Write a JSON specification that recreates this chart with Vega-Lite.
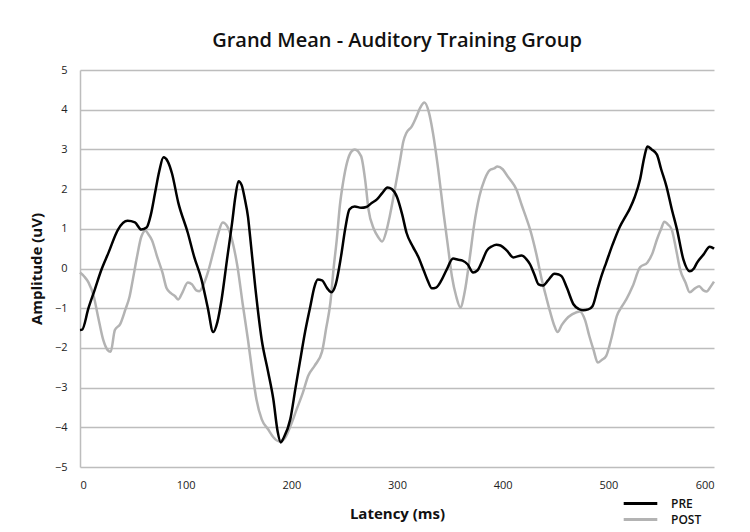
{
  "$schema": "https://vega.github.io/schema/vega-lite/v6.json",
  "width": 634,
  "height": 397,
  "padding": {"left": 80, "top": 70, "right": 36, "bottom": 65},
  "autosize": {"type": "none"},
  "background": "white",
  "title": {
    "text": "Grand Mean - Auditory Training Group",
    "font": "Open Sans",
    "fontSize": 20,
    "fontWeight": 600,
    "color": "#111111",
    "anchor": "middle",
    "offset": 13
  },
  "config": {
    "view": {"stroke": null},
    "font": "Open Sans"
  },
  "datasets": {
    "pre": [
      [0,-1.55],[2,-1.54],[8,-1.0],[14,-0.53],[20,-0.05],[27,0.4],[36,0.98],[45,1.2],[52,1.16],[58,0.98],[63,1.03],[67,1.35],[71,1.9],[75,2.45],[79,2.8],[83,2.7],[87,2.4],[93,1.66],[102,0.9],[108,0.3],[115,-0.28],[121,-1.0],[126,-1.6],[130,-1.35],[134,-0.78],[139,0.2],[144,1.16],[147,1.8],[150,2.2],[153,2.1],[156,1.75],[159,1.3],[161,0.8],[166,-0.5],[172,-1.8],[178,-2.6],[183,-3.3],[187,-4.1],[190,-4.38],[193,-4.25],[199,-3.8],[204,-3.0],[208,-2.37],[213,-1.6],[218,-0.95],[222,-0.45],[225,-0.28],[229,-0.3],[234,-0.5],[238,-0.6],[242,-0.4],[247,0.3],[251,1.0],[255,1.49],[260,1.56],[266,1.53],[271,1.55],[276,1.65],[281,1.74],[286,1.9],[291,2.04],[295,2.0],[300,1.8],[305,1.35],[309,0.9],[315,0.55],[320,0.3],[325,-0.03],[329,-0.3],[333,-0.5],[337,-0.48],[342,-0.3],[347,-0.03],[353,0.25],[358,0.22],[362,0.2],[367,0.1],[372,-0.1],[376,-0.05],[380,0.15],[385,0.45],[390,0.56],[394,0.6],[398,0.58],[404,0.45],[410,0.28],[418,0.33],[422,0.25],[426,0.1],[430,-0.15],[434,-0.4],[438,-0.43],[443,-0.3],[449,-0.13],[453,-0.15],[456,-0.2],[461,-0.5],[467,-0.9],[472,-1.02],[476,-1.05],[481,-1.03],[485,-0.95],[490,-0.5],[494,-0.15],[498,0.15],[504,0.6],[511,1.06],[516,1.3],[520,1.49],[525,1.8],[530,2.24],[534,2.8],[537,3.07],[541,3.0],[546,2.87],[550,2.5],[555,2.07],[560,1.5],[565,0.98],[571,0.23],[577,-0.07],[581,0.0],[584,0.15],[590,0.35],[596,0.55],[600,0.5]
    ],
    "post": [
      [0,-0.1],[4,-0.2],[8,-0.35],[13,-0.7],[17,-1.2],[22,-1.8],[26,-2.05],[29,-2.1],[33,-1.55],[38,-1.4],[43,-1.03],[47,-0.7],[50,-0.28],[54,0.3],[58,0.8],[62,0.95],[65,0.85],[68,0.72],[73,0.3],[78,-0.1],[82,-0.5],[86,-0.62],[90,-0.7],[93,-0.78],[97,-0.6],[102,-0.35],[106,-0.4],[110,-0.55],[113,-0.57],[117,-0.4],[121,-0.1],[126,0.4],[131,0.9],[135,1.16],[140,1.03],[145,0.6],[149,0.05],[154,-0.9],[159,-1.8],[163,-2.6],[167,-3.3],[172,-3.8],[178,-4.05],[183,-4.25],[188,-4.35],[193,-4.3],[199,-3.98],[205,-3.55],[211,-3.12],[216,-2.7],[222,-2.45],[229,-2.1],[233,-1.5],[237,-0.85],[240,0.0],[243,0.73],[246,1.6],[249,2.17],[253,2.7],[257,2.95],[260,3.0],[266,2.83],[270,2.2],[273,1.49],[278,1.0],[282,0.8],[286,0.68],[290,0.95],[293,1.3],[298,2.0],[303,2.74],[306,3.2],[309,3.42],[314,3.58],[318,3.8],[322,4.05],[326,4.18],[330,3.95],[334,3.42],[339,2.5],[344,1.41],[348,0.6],[352,-0.2],[356,-0.7],[360,-0.98],[364,-0.6],[369,0.3],[373,1.1],[378,1.82],[383,2.25],[388,2.48],[392,2.52],[395,2.57],[400,2.5],[404,2.35],[407,2.24],[413,1.99],[418,1.6],[422,1.3],[426,0.98],[432,0.35],[437,-0.28],[441,-0.7],[445,-1.1],[449,-1.45],[452,-1.6],[456,-1.42],[460,-1.28],[466,-1.15],[473,-1.08],[478,-1.3],[482,-1.7],[486,-2.05],[490,-2.37],[494,-2.3],[498,-2.2],[503,-1.75],[508,-1.2],[513,-0.95],[517,-0.78],[523,-0.45],[530,0.03],[537,0.15],[542,0.4],[546,0.73],[550,1.0],[553,1.18],[556,1.12],[560,0.98],[564,0.5],[568,-0.03],[573,-0.35],[577,-0.6],[582,-0.5],[586,-0.45],[590,-0.55],[593,-0.58],[597,-0.45],[600,-0.33]
    ]
  },
  "encoding": {
    "x": {
      "field": "t", "type": "quantitative",
      "scale": {"domain": [0, 600], "nice": false},
      "axis": {
        "title": "Latency (ms)", "values": [0,100,200,300,400,500,600],
        "grid": false, "domain": false, "ticks": false, "labelOverlap": false,
        "labelPadding": 12, "labelFontSize": 11, "labelColor": "#222222",
        "titleFontSize": 15, "titleFontWeight": "bold", "titleColor": "#111111",
        "titlePadding": 16
      }
    },
    "y": {
      "field": "v", "type": "quantitative",
      "scale": {"domain": [-5, 5], "nice": false},
      "axis": {
        "title": "Amplitude (uV)", "values": [-5,-4,-3,-2,-1,0,1,2,3,4,5],
        "grid": true, "gridColor": "#bdbdbd", "gridWidth": 1.5, "labelOverlap": false,
        "domain": true, "domainColor": "#bdbdbd", "domainWidth": 1.5,
        "ticks": false, "labelPadding": 13, "labelFontSize": 11, "labelColor": "#222222",
        "titleFontSize": 15, "titleFontWeight": "bold", "titleColor": "#111111",
        "titlePadding": 10
      }
    },
    "color": {
      "field": "series", "type": "nominal",
      "scale": {"domain": ["PRE", "POST"], "range": ["#000000", "#b3b3b3"]},
      "legend": {
        "title": null, "orient": "none", "legendX": 552, "legendY": 425,
        "symbolType": "M-2.4,0H2.4", "symbolStrokeWidth": 3, "symbolSize": 196,
        "labelFontSize": 12, "labelFontWeight": 600, "labelColor": "#111111",
        "labelOffset": 22, "rowPadding": 1, "padding": 0
      }
    }
  },
  "layer": [
    {
      "data": {"name": "post"},
      "transform": [
        {"calculate": "datum[0]", "as": "t"},
        {"calculate": "datum[1]", "as": "v"},
        {"calculate": "'POST'", "as": "series"}
      ],
      "mark": {"type": "line", "strokeWidth": 2.5, "interpolate": "monotone"}
    },
    {
      "data": {"name": "pre"},
      "transform": [
        {"calculate": "datum[0]", "as": "t"},
        {"calculate": "datum[1]", "as": "v"},
        {"calculate": "'PRE'", "as": "series"}
      ],
      "mark": {"type": "line", "strokeWidth": 2.5, "interpolate": "monotone"}
    }
  ]
}
